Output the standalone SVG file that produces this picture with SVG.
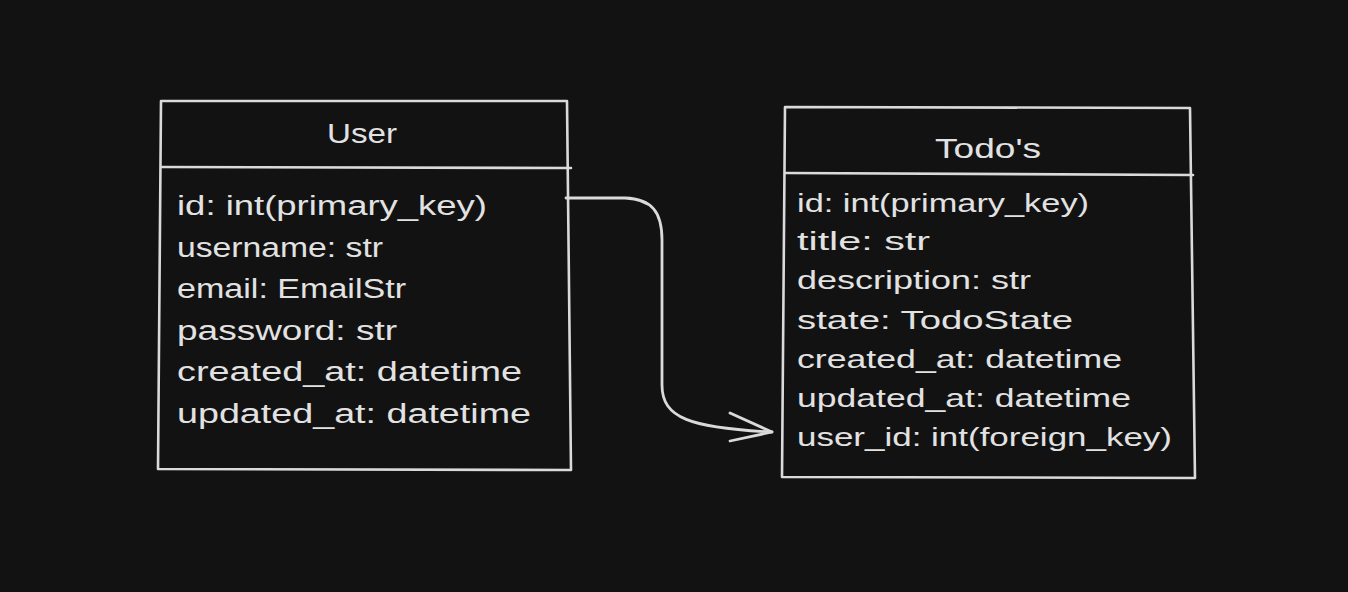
<svg xmlns="http://www.w3.org/2000/svg" width="1348" height="592" viewBox="0 0 1348 592">
<defs>
<style>
.bg{fill:#121212}
.box{fill:none;stroke:#dadada;stroke-width:2.6;stroke-linecap:round;stroke-linejoin:round}
.t{font-family:"Liberation Sans","DejaVu Sans",sans-serif;fill:#e2e2e2}
.title{font-size:28px;text-anchor:middle}
.row{font-size:27px}
.row2{font-size:26px}
.conn{fill:none;stroke:#dadada;stroke-width:2.8;stroke-linecap:round;stroke-linejoin:round}
</style>
</defs>
<rect class="bg" x="0" y="0" width="1348" height="592"/>
<g id="user">
<path class="box" d="M161,101 L567,101 L571,470 L158,469 Z"/>
<path class="box" d="M162,167 L571,168"/>
<text class="t title" x="362" y="143" textLength="70" lengthAdjust="spacingAndGlyphs">User</text>
<text class="t row" x="177" y="215" textLength="310" lengthAdjust="spacingAndGlyphs">id: int(primary_key)</text>
<text class="t row" x="177" y="257" textLength="206" lengthAdjust="spacingAndGlyphs">username: str</text>
<text class="t row" x="177" y="298" textLength="229" lengthAdjust="spacingAndGlyphs">email: EmailStr</text>
<text class="t row" x="177" y="340" textLength="220" lengthAdjust="spacingAndGlyphs">password: str</text>
<text class="t row" x="177" y="381" textLength="345" lengthAdjust="spacingAndGlyphs">created_at: datetime</text>
<text class="t row" x="177" y="423" textLength="354" lengthAdjust="spacingAndGlyphs">updated_at: datetime</text>
</g>
<g id="todos">
<path class="box" d="M785,107 L1190,108 L1195,478 L782,477 Z"/>
<path class="box" d="M785,173 L1193,175"/>
<text class="t title" x="988" y="158" textLength="106" lengthAdjust="spacingAndGlyphs">Todo's</text>
<text class="t row2" x="797" y="212" textLength="292" lengthAdjust="spacingAndGlyphs">id: int(primary_key)</text>
<text class="t row2" x="797" y="250" textLength="133" lengthAdjust="spacingAndGlyphs">title: str</text>
<text class="t row2" x="797" y="289" textLength="234" lengthAdjust="spacingAndGlyphs">description: str</text>
<text class="t row2" x="797" y="329" textLength="276" lengthAdjust="spacingAndGlyphs">state: TodoState</text>
<text class="t row2" x="797" y="368" textLength="325" lengthAdjust="spacingAndGlyphs">created_at: datetime</text>
<text class="t row2" x="797" y="407" textLength="334" lengthAdjust="spacingAndGlyphs">updated_at: datetime</text>
<text class="t row2" x="797" y="446" textLength="375" lengthAdjust="spacingAndGlyphs">user_id: int(foreign_key)</text>
</g>
<g id="connectors">
<path class="conn" d="M566,198 L625,198 C652,199 662,212 662,240 L662,385 C662,418 690,428 772,432"/>
<path class="conn" d="M730,413 L772,432 L730,441"/>
</g>
</svg>
